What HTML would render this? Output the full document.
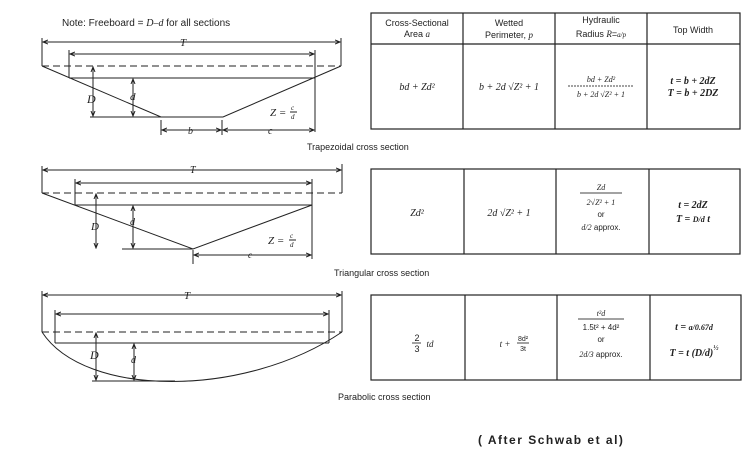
<!DOCTYPE html>
<html><head><meta charset="utf-8"><style>
html,body{margin:0;padding:0;background:#fff;}
svg{display:block;}
text{font-family:"Liberation Sans",sans-serif;fill:#222;}
.s{font-family:"Liberation Serif",serif;font-style:italic;}
</style></head><body>
<svg width="750" height="459" viewBox="0 0 750 459" xmlns="http://www.w3.org/2000/svg" stroke="#222" fill="none" stroke-width="1">
<defs><marker id="a" markerWidth="6" markerHeight="6" refX="5" refY="3" orient="auto-start-reverse"><path d="M0,1 L5,3 L0,5" stroke="#222" fill="none"/></marker></defs>
<text x="62" y="26" font-size="10" stroke="none">Note: Freeboard = <tspan class="s">D–d</tspan> for all sections</text>
<!-- trapezoid -->
<g>
<line x1="42" y1="38" x2="42" y2="66"/><line x1="341" y1="38" x2="341" y2="66"/>
<line x1="43" y1="42" x2="340" y2="42" marker-start="url(#a)" marker-end="url(#a)"/>
<text x="180" y="46" font-size="11" class="s" stroke="none">T</text>
<line x1="69" y1="50" x2="69" y2="78"/><line x1="315" y1="50" x2="315" y2="132"/>
<line x1="70" y1="54" x2="314" y2="54" marker-start="url(#a)" marker-end="url(#a)"/>
<line x1="42" y1="66" x2="341" y2="66" stroke-dasharray="7,4"/>
<line x1="69" y1="78" x2="315" y2="78"/>
<polyline points="42,66 161,117 223,117 341,66"/>
<line x1="90" y1="117" x2="161" y2="117"/>
<line x1="93" y1="67" x2="93" y2="116" marker-start="url(#a)" marker-end="url(#a)"/>
<line x1="133" y1="79" x2="133" y2="116" marker-start="url(#a)" marker-end="url(#a)"/>
<text x="87" y="103" font-size="12" class="s" stroke="none">D</text>
<text x="130" y="100" font-size="11" class="s" stroke="none">d</text>
<line x1="161" y1="120" x2="161" y2="135"/><line x1="222" y1="120" x2="222" y2="135"/>
<line x1="162" y1="130" x2="221" y2="130" marker-start="url(#a)" marker-end="url(#a)"/>
<line x1="223" y1="130" x2="314" y2="130" marker-start="url(#a)" marker-end="url(#a)"/>
<text x="188" y="134" font-size="10" class="s" stroke="none">b</text>
<text x="268" y="134" font-size="10" class="s" stroke="none">c</text>
<text x="270" y="116" font-size="11" class="s" stroke="none">Z = </text>
<text x="291" y="110" font-size="7" class="s" stroke="none">c</text><line x1="290" y1="112" x2="297" y2="112"/><text x="291" y="119" font-size="7" class="s" stroke="none">d</text>
<text x="307" y="150" font-size="9" stroke="none">Trapezoidal cross section</text>
</g>
<!-- triangle -->
<g>
<line x1="42" y1="166" x2="42" y2="193"/><line x1="342" y1="164" x2="342" y2="193"/>
<line x1="43" y1="170" x2="341" y2="170" marker-start="url(#a)" marker-end="url(#a)"/>
<text x="190" y="173" font-size="10" class="s" stroke="none">T</text>
<line x1="75" y1="179" x2="75" y2="205"/><line x1="312" y1="179" x2="312" y2="259"/>
<line x1="76" y1="183" x2="311" y2="183" marker-start="url(#a)" marker-end="url(#a)"/>
<line x1="42" y1="193" x2="342" y2="193" stroke-dasharray="7,4"/>
<line x1="75" y1="205" x2="312" y2="205"/>
<polyline points="42,193 193,249 312,205"/>
<line x1="122" y1="249" x2="193" y2="249"/>
<line x1="96" y1="194" x2="96" y2="248" marker-start="url(#a)" marker-end="url(#a)"/>
<line x1="133" y1="206" x2="133" y2="248" marker-start="url(#a)" marker-end="url(#a)"/>
<text x="91" y="230" font-size="11" class="s" stroke="none">D</text>
<text x="130" y="225" font-size="10" class="s" stroke="none">d</text>
<line x1="193" y1="250" x2="193" y2="264"/>
<line x1="194" y1="255" x2="311" y2="255" marker-start="url(#a)" marker-end="url(#a)"/>
<text x="248" y="258" font-size="9" class="s" stroke="none">c</text>
<text x="268" y="244" font-size="11" class="s" stroke="none">Z = </text>
<text x="290" y="238" font-size="7" class="s" stroke="none">c</text><line x1="289" y1="240" x2="296" y2="240"/><text x="290" y="247" font-size="7" class="s" stroke="none">d</text>
<text x="334" y="276" font-size="9" stroke="none">Triangular cross section</text>
</g>
<!-- parabola -->
<g>
<line x1="42" y1="291" x2="42" y2="332"/><line x1="342" y1="291" x2="342" y2="332"/>
<line x1="43" y1="295" x2="341" y2="295" marker-start="url(#a)" marker-end="url(#a)"/>
<text x="184" y="299" font-size="11" class="s" stroke="none">T</text>
<line x1="55" y1="310" x2="55" y2="343"/><line x1="329" y1="310" x2="329" y2="343"/>
<line x1="56" y1="314" x2="328" y2="314" marker-start="url(#a)" marker-end="url(#a)"/>
<line x1="42" y1="332" x2="342" y2="332" stroke-dasharray="7,4"/>
<line x1="55" y1="343" x2="329" y2="343"/>
<path d="M42,332 C85,398 245,398 342,332"/>
<line x1="92" y1="381" x2="175" y2="381"/>
<line x1="96" y1="333" x2="96" y2="380" marker-start="url(#a)" marker-end="url(#a)"/>
<line x1="134" y1="344" x2="134" y2="380" marker-start="url(#a)" marker-end="url(#a)"/>
<text x="90" y="359" font-size="12" class="s" stroke="none">D</text>
<text x="131" y="363" font-size="10" class="s" stroke="none">d</text>
<text x="338" y="400" font-size="9" stroke="none">Parabolic cross section</text>
</g>
<!-- tables -->
<g stroke-width="1.2">
<rect x="371" y="13" width="369" height="116"/>
<line x1="371" y1="44" x2="740" y2="44"/>
<line x1="463" y1="13" x2="463" y2="129"/><line x1="555" y1="13" x2="555" y2="129"/><line x1="647" y1="13" x2="647" y2="129"/>
<rect x="371" y="169" width="369" height="85"/>
<line x1="464" y1="169" x2="464" y2="254"/><line x1="556" y1="169" x2="556" y2="254"/><line x1="649" y1="169" x2="649" y2="254"/>
<rect x="371" y="295" width="370" height="85"/>
<line x1="465" y1="295" x2="465" y2="380"/><line x1="557" y1="295" x2="557" y2="380"/><line x1="650" y1="295" x2="650" y2="380"/>
</g>
<g stroke="none" font-size="9" text-anchor="middle">
<text x="417" y="26">Cross-Sectional</text><text x="417" y="37">Area <tspan class="s">a</tspan></text>
<text x="509" y="26">Wetted</text><text x="509" y="38">Perimeter, <tspan class="s">p</tspan></text>
<text x="601" y="23">Hydraulic</text><text x="601" y="37">Radius <tspan class="s">R</tspan>=<tspan class="s" font-size="7">a/p</tspan></text>
<text x="693" y="33">Top Width</text>
</g>
<g stroke="none" font-size="10" text-anchor="middle" font-family="Liberation Serif">
<text x="417" y="90" class="s">bd + Zd²</text>
<text x="509" y="90" class="s">b + 2d √Z² + 1</text>
<text x="601" y="82" class="s" font-size="8">bd + Zd²</text><line x1="568" y1="86" x2="634" y2="86" stroke="#444" stroke-dasharray="2,1"/>
<text x="601" y="97" class="s" font-size="8">b + 2d √Z² + 1</text>
<text x="693" y="84" class="s" font-weight="bold">t = b + 2dZ</text><text x="693" y="96" class="s" font-weight="bold">T = b + 2DZ</text>
<text x="417" y="216" class="s">Zd²</text>
<text x="509" y="216" class="s">2d √Z² + 1</text>
<text x="601" y="190" class="s" font-size="8">Zd</text><line x1="580" y1="193" x2="622" y2="193" stroke="#444"/>
<text x="601" y="205" class="s" font-size="8">2√Z² + 1</text>
<text x="601" y="217" font-size="8" font-family="Liberation Sans">or</text>
<text x="601" y="230" font-size="8" font-family="Liberation Sans"><tspan class="s">d/2</tspan> approx.</text>
<text x="693" y="208" class="s" font-weight="bold">t = 2dZ</text><text x="693" y="222" class="s" font-weight="bold">T = <tspan font-size="8">D/d</tspan> t</text>
<text x="417" y="341" font-size="9">2</text><line x1="412" y1="343" x2="421" y2="343" stroke="#444"/><text x="417" y="352" font-size="9">3</text><text x="430" y="347" class="s" font-size="9">td</text>
<text x="505" y="347" class="s" font-size="9">t + </text><text x="523" y="341" font-size="7">8d²</text><line x1="517" y1="343" x2="529" y2="343" stroke="#444"/><text x="523" y="351" font-size="7">3t</text>
<text x="601" y="316" class="s" font-size="8">t²d</text><line x1="578" y1="319" x2="624" y2="319" stroke="#444"/>
<text x="601" y="330" font-size="8">1.5t² + 4d²</text>
<text x="601" y="342" font-size="8" font-family="Liberation Sans">or</text>
<text x="601" y="357" font-size="8" font-family="Liberation Sans"><tspan class="s">2d/3</tspan> approx.</text>
<text x="694" y="330" class="s" font-weight="bold">t = <tspan font-size="8">a/0.67d</tspan></text>
<text x="694" y="356" class="s" font-weight="bold">T = t (D/d)<tspan font-size="7" dy="-6">½</tspan></text>
</g>
<text x="478" y="444" font-size="12" font-weight="bold" letter-spacing="1.5" stroke="none">( After  Schwab et al)</text>
</svg>
</body></html>
